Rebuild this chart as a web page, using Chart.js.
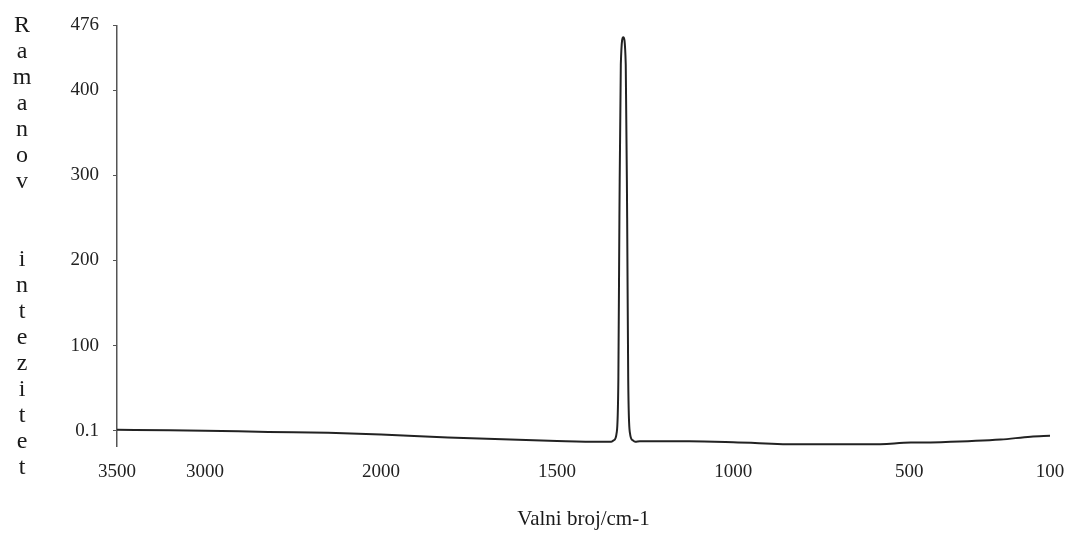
<!DOCTYPE html>
<html>
<head>
<meta charset="utf-8">
<title>Ramanov spektar</title>
<script src="https://cdn.jsdelivr.net/npm/chart.js@4.4.1/dist/chart.umd.min.js"></script>
<style>
    html, body { margin: 0; padding: 0; background: #fff; }
    #wrap { position: relative; width: 1074px; height: 538px; }
    #yTitle {
        position: absolute;
        left: 10px;
        top: 11px;
        width: 24px;
        text-align: center;
        font-family: "Liberation Serif", "Times New Roman", serif;
        font-size: 24px;
        line-height: 26px;
        color: #1a1a1a;
    }
</style>
</head>
<body>
<div id="wrap">
    <canvas id="ramanChart"></canvas>
    <div id="yTitle"></div>
</div>
<script>
// spectrum (wavenumber in cm-1, intensity)
const wavenumbers = [3500, 3200, 3000, 2640, 2300, 2000, 1810, 1500, 1380, 1346, 1338, 1331, 1326, 1323, 1319, 1312, 1305, 1301, 1298, 1293, 1286, 1278, 1265, 1125, 1000, 810, 610, 495, 410, 240, 155, 100];
const intensities = [1, 0.5, 0, -1.5, -2.5, -4.5, -8, -12, -13, -13, -11, -3, 60, 250, 430, 462, 430, 250, 60, -3, -11, -13, -12.5, -12.5, -13.5, -16, -16, -14, -13.5, -10.5, -7, -6];

const xTickLabels = [3500, 3000, 2000, 1500, 1000, 500, 100];
const yTickLabels = [0.1, 100, 200, 300, 400, 476];

const yTitle = 'Ramanov  intezitet';

// the original axis is compressed above 2000 cm-1 (half scale)
function axisPos(w) {
    return w <= 2000 ? w : 2000 + (w - 2000) / 2;
}

document.getElementById('yTitle').innerHTML =
    yTitle.split('').map(ch => ch === ' ' ? '&nbsp;' : ch).join('<br>');

const serif = '"Liberation Serif", "Times New Roman", serif';
const ctx = document.getElementById('ramanChart').getContext('2d');

new Chart(ctx, {
    type: 'line',
    data: {
        datasets: [{
            data: wavenumbers.map((w, i) => ({ x: axisPos(w), y: intensities[i] })),
            borderColor: '#222',
            borderWidth: 2,
            pointRadius: 0,
            cubicInterpolationMode: 'monotone',
            fill: false
        }]
    },
    options: {
        responsive: true,
        maintainAspectRatio: false,
        animation: false,
        layout: { padding: { top: 23, right: 24, bottom: 0, left: 0 } },
        plugins: {
            legend: { display: false },
            tooltip: { enabled: false }
        },
        scales: {
            x: {
                type: 'linear',
                reverse: true,
                min: axisPos(100),
                max: axisPos(3500),
                afterBuildTicks: scale => {
                    scale.ticks = xTickLabels.map(w => ({ value: axisPos(w) }));
                },
                afterFit: scale => { scale.height = 92; },
                grid: { display: false },
                border: { display: false },
                ticks: {
                    autoSkip: false,
                    maxRotation: 0,
                    padding: 7,
                    color: '#222',
                    font: { family: serif, size: 19 },
                    callback: (value, index) => String(xTickLabels[index])
                },
                title: {
                    display: true,
                    text: 'Valni broj/cm-1',
                    color: '#1a1a1a',
                    font: { family: serif, size: 21 },
                    padding: { top: 0, bottom: 6 }
                }
            },
            y: {
                type: 'linear',
                min: -18,
                max: 476,
                afterBuildTicks: scale => {
                    scale.ticks = yTickLabels.map(v => ({ value: v }));
                },
                afterFit: scale => { scale.width = 117; },
                grid: {
                    display: true,
                    drawOnChartArea: false,
                    tickLength: 4,
                    color: '#555'
                },
                border: { display: true, color: '#555', width: 1.5 },
                ticks: {
                    autoSkip: false,
                    padding: 14,
                    color: '#222',
                    font: { family: serif, size: 19 },
                    callback: value => String(value)
                }
            }
        }
    }
});
</script>
</body>
</html>
